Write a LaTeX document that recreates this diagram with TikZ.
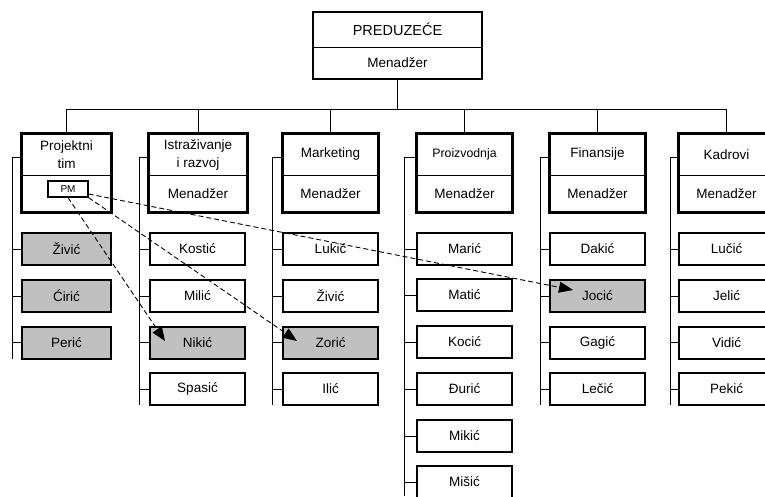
\documentclass[tikz,border=0pt]{standalone}
\usepackage{fontspec}
\setmainfont{Liberation Sans}
\usetikzlibrary{arrows.meta,calc}
\definecolor{gfill}{RGB}{192,192,192}
\begin{document}
\begin{tikzpicture}[x=1pt,y=-1pt,
  every node/.style={inner sep=0pt, font=\fontsize{13.5}{18}\selectfont, align=center},
  emp/.style={draw, line width=2pt, minimum width=95pt, minimum height=32pt},
  sel/.style={emp, fill=gfill},
  dtop/.style={minimum width=95pt, minimum height=41pt},
  dbot/.style={minimum width=95pt, minimum height=37pt},
  outer/.style={line width=3pt},
  link/.style={line width=1pt},
  pmlink/.style={line width=0.9pt, dash pattern=on 5pt off 3pt, -{Triangle[length=14pt,width=11pt]}},
]
\useasboundingbox (0,0) rectangle (765,496);

% top box
\node[minimum width=169pt, minimum height=35pt, font=\fontsize{14.5}{18}\selectfont] (ptop) at (397.5,29.5) {PREDUZEĆE};
\node[minimum width=169pt, minimum height=32pt] (pbot) at (397.5,63) {Menadžer};
\draw[link] (ptop.south west) -- (ptop.south east);
\draw[line width=2pt] (ptop.north west) rectangle (pbot.south east);

% departments
\node[dtop, minimum width=89pt] (d1t) at (66.5,154.5) {Projektni\\tim};
\node[dbot, minimum width=89pt] (d1b) at (66.5,193.5) {};
\node[dtop, minimum width=98pt] (d2t) at (198,154.5) {Istraživanje\\i razvoj};
\node[dbot, minimum width=98pt] (d2b) at (198,193.5) {Menadžer};
\node[dtop] (d3t) at (330.5,154.5) {Marketing};
\node[dbot] (d3b) at (330.5,193.5) {Menadžer};
\node[dtop, font=\fontsize{12.3}{16}\selectfont] (d4t) at (464.5,154.5) {Proizvodnja};
\node[dbot] (d4b) at (464.5,193.5) {Menadžer};
\node[dtop] (d5t) at (597.5,154.5) {Finansije};
\node[dbot] (d5b) at (597.5,193.5) {Menadžer};
\node[dtop] (d6t) at (726.5,154.5) {Kadrovi};
\node[dbot] (d6b) at (726.5,193.5) {Menadžer};
\foreach \d in {1,...,6}{
  \draw[link] (d\d t.south west) -- (d\d t.south east);
  \draw[outer] (d\d t.north west) rectangle (d\d b.south east);
}
\node[draw, line width=1.3pt, minimum width=40pt, minimum height=16pt, font=\fontsize{10}{12}\selectfont] (pm) at (68,189) {PM};

% bus
\coordinate (bus) at (397.5,109);
\draw[link] (pbot.south) -- (bus);
\draw[link] (d1t.north |- bus) -- (d6t.north |- bus);
\foreach \d in {1,...,6}{
  \draw[link] (d\d t.north) -- (d\d t.north |- bus);
}

% employees
\node[sel, minimum width=89pt] (e11) at (66.5,249) {Živić};
\node[sel, minimum width=89pt] (e12) at (66.5,296) {Ćirić};
\node[sel, minimum width=89pt] (e13) at (66.5,342.5) {Perić};

\node[emp] (e21) at (197.5,249) {Kostić};
\node[emp] (e22) at (197.5,296) {Milić};
\node[sel] (e23) at (197.5,342.5) {Nikić};
\node[emp] (e24) at (197.5,389) {Spasić};

\node[emp] (e31) at (330.5,249) {Lukić};
\node[emp] (e32) at (330.5,296) {Živić};
\node[sel] (e33) at (330.5,342.5) {Zorić};
\node[emp] (e34) at (330.5,389) {Ilić};

\node[emp] (e41) at (464.5,249) {Marić};
\node[emp] (e42) at (464.5,295) {Matić};
\node[emp] (e43) at (464.5,342) {Kocić};
\node[emp] (e44) at (464.5,389) {Đurić};
\node[emp] (e45) at (464.5,436) {Mikić};
\node[emp] (e46) at (464.5,482) {Mišić};

\node[emp] (e51) at (597.5,249) {Dakić};
\node[sel] (e52) at (597.5,296) {Jocić};
\node[emp] (e53) at (597.5,342.5) {Gagić};
\node[emp] (e54) at (597.5,389) {Lečić};

\node[emp] (e61) at (726.5,249) {Lučić};
\node[emp] (e62) at (726.5,296) {Jelić};
\node[emp] (e63) at (726.5,342.5) {Vidić};
\node[emp] (e64) at (726.5,389) {Pekić};

% vertical trunk lines
\coordinate (v1) at (12,157);
\coordinate (v2) at (139,157);
\coordinate (v3) at (272,157);
\coordinate (v4) at (404,157);
\coordinate (v5) at (540,157);
\coordinate (v6) at (670,157);
\coordinate (end4) at (404,496);
\foreach \d in {1,...,6}{
  \draw[link] (v\d) -- (v\d -| d\d t.west);
}
\draw[link] (v1) -- ([yshift=1pt]v1 |- e13.south);
\draw[link] (v2) -- ([yshift=1pt]v2 |- e24.south);
\draw[link] (v3) -- ([yshift=1pt]v3 |- e34.south);
\draw[link] (v4) -- (end4);
\draw[link] (v5) -- ([yshift=1pt]v5 |- e54.south);
\draw[link] (v6) -- ([yshift=1pt]v6 |- e64.south);
\foreach \k in {1,2,3}{\draw[link] (e1\k.west) -- (e1\k.west -| v1);}
\foreach \k in {1,...,4}{
  \draw[link] (e2\k.west) -- (e2\k.west -| v2);
  \draw[link] (e3\k.west) -- (e3\k.west -| v3);
  \draw[link] (e5\k.west) -- (e5\k.west -| v5);
  \draw[link] (e6\k.west) -- (e6\k.west -| v6);
}
\foreach \k in {1,...,6}{\draw[link] (e4\k.west) -- (e4\k.west -| v4);}

% dashed PM links
\coordinate (tJ) at (573,290);
\coordinate (tZ) at (297,341);
\coordinate (tN) at (165,341);
\draw[pmlink] ([yshift=-5pt]pm.east) -- (tJ);
\draw[pmlink] (pm.south east) -- (tZ);
\draw[pmlink] (pm.south) -- (tN);
\end{tikzpicture}
\end{document}
